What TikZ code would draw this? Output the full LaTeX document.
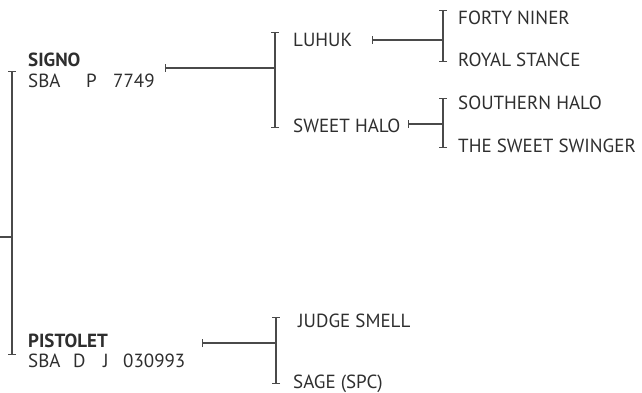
\documentclass[tikz,border=0pt]{standalone}
\usepackage{fontspec}
\setmainfont{PT Sans}
\usetikzlibrary{arrows.meta}
\definecolor{ink}{HTML}{2E2E2E}
\definecolor{ln}{HTML}{4A4A4A}
\begin{document}
\begin{tikzpicture}[x=1pt,y=-1pt,
  lbl/.style={anchor=base west,inner sep=0pt,text=ink,font=\fontsize{19}{21}\selectfont},
  bold/.style={lbl,font=\fontsize{19}{21}\selectfont\bfseries},
  wire/.style={draw=ln,line width=1.2pt},
  brk/.style={wire,{Bar[width=8pt,line width=1.2pt]}-{Bar[width=8pt,line width=1.2pt]}},
  lead/.style={wire,{Bar[width=8pt,line width=1.2pt]}-}]
\useasboundingbox (0,0) rectangle (642,393);
% left names
\node[bold] (signo) at (28,67) {SIGNO};
\node[lbl] (signoid) at (28,88) {\makebox[58pt][l]{SBA}\makebox[27pt][l]{P}7749};
\node[bold] (pist) at (28,347) {PISTOLET};
\node[lbl] (pistid) at (28,367) {\makebox[45pt][l]{SBA}\makebox[30pt][l]{D}\makebox[20pt][l]{J}030993};
% generation 2
\node[lbl] (luhuk) at (293,47) {LUHUK};
\node[lbl] (shalo) at (293,132) {SWEET HALO};
\node[lbl] (judge) at (298,327) {JUDGE SMELL};
\node[lbl] (sage) at (293,388) {SAGE (SPC)};
% generation 3
\node[lbl] (forty) at (458,25) {FORTY NINER};
\node[lbl] (royal) at (458,67) {ROYAL STANCE};
\node[lbl] (south) at (458,110) {SOUTHERN HALO};
\node[lbl] (swing) at (458,152) {THE SWEET SWINGER};
% root bracket
\coordinate (r0) at (0,237);
\coordinate (rt) at (12,71);
\coordinate (rb) at (12,355);
\draw[brk] (rt) -- (rb);
\draw[wire] (r0) -- (r0 -| rt);
% signo bracket
\coordinate (s1) at (165,68);
\coordinate (st) at (275,32);
\coordinate (sb) at (275,128);
\draw[brk] (st) -- (sb);
\draw[lead] (s1) -- (s1 -| st);
% luhuk bracket
\coordinate (l1) at (372,40);
\coordinate (lt) at (443,10);
\coordinate (lb) at (443,62);
\draw[brk] (lt) -- (lb);
\draw[lead] (l1) -- (l1 -| lt);
% sweet halo bracket
\coordinate (h1) at (408,124);
\coordinate (ht) at (443,98);
\coordinate (hb) at (443,148);
\draw[brk] (ht) -- (hb);
\draw[lead] (h1) -- (h1 -| ht);
% pistolet bracket
\coordinate (p1) at (202,343);
\coordinate (pt) at (276,317);
\coordinate (pb) at (276,384);
\draw[brk] (pt) -- (pb);
\draw[lead] (p1) -- (p1 -| pt);
\end{tikzpicture}
\end{document}
